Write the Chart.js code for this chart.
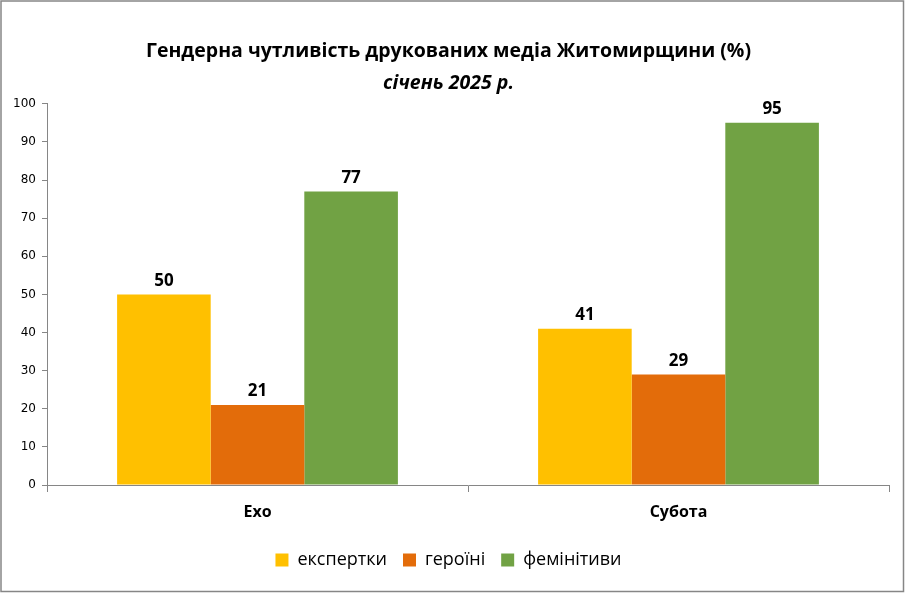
<!DOCTYPE html>
<html>
<head>
<meta charset="utf-8">
<script src="https://cdn.jsdelivr.net/npm/chart.js@4.4.1/dist/chart.umd.min.js"></script>
<style>
  html, body { margin: 0; padding: 0; background: #fff; }
  #wrap { width: 905px; height: 593px; position: relative; }
</style>
</head>
<body>
<div id="wrap"><canvas id="media_chart" width="905" height="593"></canvas></div>
<script>
const categories = ["Ехо", "Субота"];
const experts = [50, 41];
const heroines = [21, 29];
const feminitives = [77, 95];
const yTicks = [0, 10, 20, 30, 40, 50, 60, 70, 80, 90, 100];

// value labels over each bar
const barLabels = {
  id: "barLabels",
  afterDatasetsDraw(chart) {
    const ctx = chart.ctx;
    ctx.save();
    ctx.font = "bold 17px 'Open Sans', sans-serif";
    ctx.fillStyle = "#000";
    ctx.textAlign = "center";
    ctx.textBaseline = "bottom";
    chart.data.datasets.forEach((ds, i) => {
      chart.getDatasetMeta(i).data.forEach((bar, j) => {
        ctx.fillText(ds.data[j], bar.x, bar.y - 5);
      });
    });
    ctx.restore();
  }
};

// grey frame around the whole picture
const frame = {
  id: "frame",
  beforeDraw(chart) {
    const ctx = chart.ctx;
    ctx.save();
    ctx.fillStyle = "#fff";
    ctx.fillRect(0, 0, chart.width, chart.height);
    ctx.strokeStyle = "#868686";
    ctx.lineWidth = 1.5;
    ctx.strokeRect(1, 1, chart.width - 2.5, chart.height - 2.5);
    ctx.restore();
  }
};

var media_canvas = document.getElementById("media_chart");

var mediaChart = new Chart(media_canvas, {
  type: "bar",
  data: {
    labels: categories,
    datasets: [
      { label: "експертки", data: experts, backgroundColor: "#FFC000" },
      { label: "героїні", data: heroines, backgroundColor: "#E36C0A" },
      { label: "фемінітиви", data: feminitives, backgroundColor: "#71A244" },
    ],
  },
  options: {
    responsive: false,
    animation: false,
    events: [],
    layout: { padding: { left: 8, right: 16, top: 10, bottom: 14 } },
    datasets: { bar: { categoryPercentage: 0.667, barPercentage: 1.0 } },
    plugins: {
      title: {
        display: true,
        text: "Гендерна чутливість друкованих медіа Житомирщини (%)",
        color: "#000",
        font: { family: "'Open Sans', sans-serif", size: 19.5, weight: "bold" },
        padding: { top: 30, bottom: 8 },
      },
      subtitle: {
        display: true,
        text: "січень 2025 р.",
        color: "#000",
        font: { family: "'Open Sans', sans-serif", size: 19.5, weight: "bold", style: "italic" },
        padding: { bottom: 9 },
      },
      legend: {
        position: "bottom",
        labels: {
          color: "#000",
          boxWidth: 13,
          boxHeight: 13,
          padding: 16,
          font: { family: "'Open Sans', sans-serif", size: 18 },
        },
      },
      tooltip: { enabled: false },
    },
    scales: {
      x: {
        grid: { display: true, drawOnChartArea: false, tickLength: 7, color: "#868686" },
        border: { color: "#868686" },
        ticks: {
          color: "#000",
          padding: 11,
          font: { family: "'Open Sans', sans-serif", size: 16, weight: "bold" },
        },
        afterFit(scale) { scale.height = 50; },
      },
      y: {
        min: 0,
        max: 100,
        afterBuildTicks(scale) { scale.ticks = yTicks.map(v => ({ value: v })); },
        grid: { display: true, drawOnChartArea: false, tickLength: 5, color: "#868686" },
        border: { color: "#868686" },
        ticks: {
          color: "#000",
          padding: 6,
          font: { family: "'DejaVu Sans', sans-serif", size: 12 },
        },
        afterFit(scale) { scale.width = 39; },
      },
    },
  },
  plugins: [frame, barLabels],
});
</script>
</body>
</html>
